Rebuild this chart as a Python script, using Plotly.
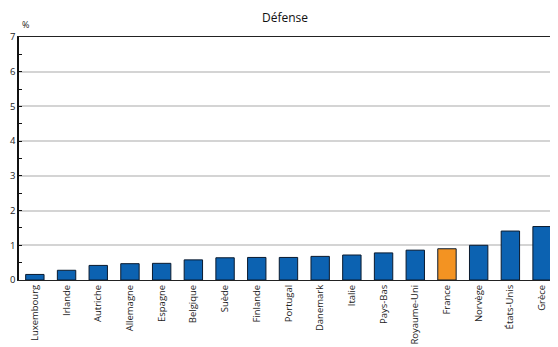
import plotly.graph_objects as go

countries = ["Luxembourg", "Irlande", "Autriche", "Allemagne", "Espagne", "Belgique",
             "Suède", "Finlande", "Portugal", "Danemark", "Italie", "Pays-Bas",
             "Royaume-Uni", "France", "Norvège", "États-Unis", "Grèce"]
values = [0.16, 0.28, 0.42, 0.47, 0.48, 0.58, 0.64, 0.65, 0.65, 0.68, 0.72, 0.78,
          0.86, 0.90, 1.00, 1.41, 1.54]
highlight = "France"
y_ticks = [0, 1, 2, 3, 4, 5, 6, 7]

blue = "#0c62b1"
orange = "#f39322"
colors = [orange if c == highlight else blue for c in countries]

fig = go.Figure()
fig.add_trace(go.Bar(
    x=list(range(len(countries))), y=values,
    marker=dict(color=colors, line=dict(color="#0a1a2e", width=1)),
    width=0.58, cliponaxis=True,
))

# page body has an 8px default margin, so the figure is sized to fit inside the window
fig.update_layout(
    width=542, height=339,
    margin=dict(l=11, r=0, t=29, b=67, autoexpand=False),
    paper_bgcolor="white", plot_bgcolor="white",
    font=dict(family="Open Sans, Liberation Sans, sans-serif", size=10, color="#222"),
    showlegend=False,
    title=dict(text="Défense", x=0.511, xanchor="center", y=1 - 10 / 339, yanchor="middle",
               font=dict(size=12, color="#111")),
    annotations=[dict(text="%", xref="paper", yref="paper", x=0.002, y=1.05,
                      xanchor="left", yanchor="middle", showarrow=False,
                      font=dict(size=9, color="#222"))],
)

fig.update_xaxes(
    range=[-0.5, 16.25], automargin=False,
    tickmode="array", tickvals=list(range(len(countries))), ticktext=countries,
    tickangle=-90, showline=True, linecolor="#222", linewidth=1,
    mirror=True, showgrid=False, ticks="", tickfont=dict(size=9.5),
)
fig.update_yaxes(
    range=[0, 7], tickvals=y_ticks, showline=True, linecolor="#111", linewidth=1.5,
    showgrid=True, gridcolor="#d4d4d4", gridwidth=1.5, automargin=False,
    ticks="inside", ticklen=3, tickcolor="#111",
    minor=dict(dtick=0.5, ticks="inside", ticklen=3, tickcolor="#111", showgrid=False),
    zeroline=False, tickfont=dict(size=9.5), ticklabelstandoff=0,
)

fig.write_html("out.html")
